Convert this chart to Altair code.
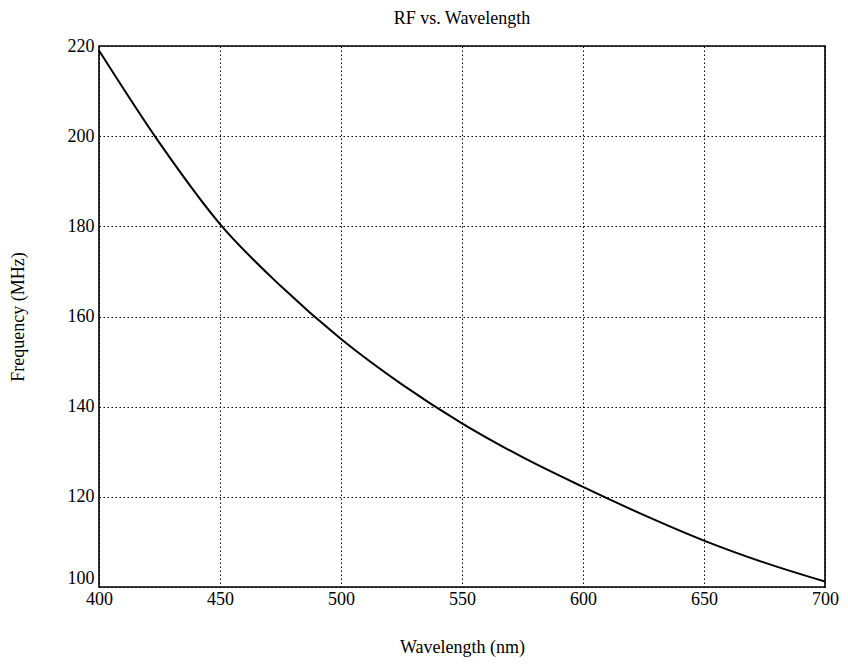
import altair as alt
import pandas as pd

wavelength = [400, 425, 450, 475, 500, 525, 550, 575, 600, 625, 650, 675, 700]
frequency = [219.0, 198.5, 180.5, 166.8, 155.0, 145.0, 136.3, 128.8, 122.2, 116.0, 110.3, 105.4, 101.2]

df = pd.DataFrame({"wavelength": wavelength, "frequency": frequency})

FONT = "Liberation Serif"

chart = alt.Chart(df).mark_line(
    color="black", strokeWidth=2, interpolate="monotone"
).encode(
    x=alt.X("wavelength:Q",
            scale=alt.Scale(domain=[400, 700], nice=False, zero=False),
            axis=alt.Axis(title="Wavelength (nm)", values=[400, 450, 500, 550, 600, 650, 700],
                          ticks=False, domain=False, labelPadding=3, titlePadding=30,
                          labelFlush=False)),
    y=alt.Y("frequency:Q",
            scale=alt.Scale(domain=[100, 220], nice=False, zero=False),
            axis=alt.Axis(title="Frequency (MHz)", values=[100, 120, 140, 160, 180, 200, 220],
                          ticks=False, domain=False, labelPadding=5, titlePadding=40,
                          labelFlush=False,
                          labelBaseline=alt.condition("datum.value == 100",
                                                      alt.value("bottom"), alt.value("middle")))),
).properties(
    width=726,
    height=541,
    title=alt.TitleParams("RF vs. Wavelength", fontSize=18, font=FONT, fontWeight="normal",
                          color="black", offset=9),
    autosize=alt.AutoSizeParams(type="none"),
    padding={"left": 91, "top": 38, "right": 15, "bottom": 72},
).configure_view(
    stroke="black", strokeWidth=1.6
).configure_axis(
    grid=True, gridColor="black", gridDash=[1.5, 2.5], gridWidth=1, gridOpacity=1,
    labelFont=FONT, labelFontSize=18, labelColor="black",
    titleFont=FONT, titleFontSize=18, titleFontWeight="normal", titleColor="black",
)

chart.save("out.html", embed_options={"renderer": "svg", "actions": False})
